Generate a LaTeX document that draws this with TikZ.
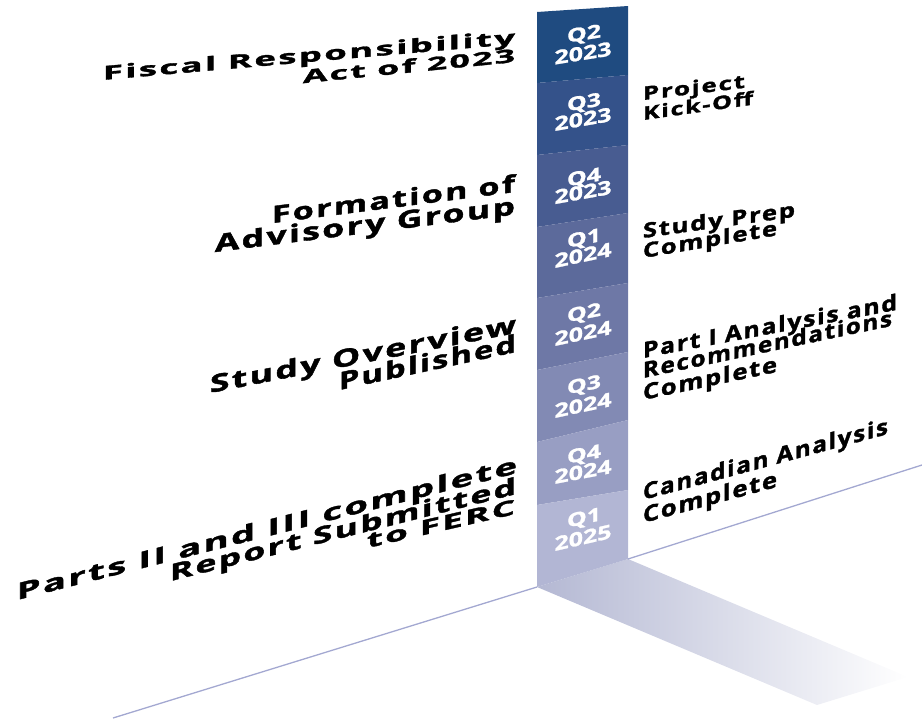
\documentclass[tikz,border=0pt]{standalone}
\usepackage{fontspec}
\usepackage{graphicx}
\newfontfamily\lblfont{Open Sans}[LetterSpace=7, BoldFeatures={FakeBold=1.6}]
\newfontfamily\qfont{Open Sans}[BoldFeatures={FakeBold=1.2}]
\newcommand{\fit}[3]{\resizebox{#1pt}{#2pt}{\lblfont\bfseries #3}}
\newcommand{\qfit}[3]{\resizebox{#1pt}{#2pt}{\qfont\bfseries #3}}
\definecolor{cA}{HTML}{1F4B80}
\definecolor{cB}{HTML}{34528A}
\definecolor{cC}{HTML}{485C91}
\definecolor{cD}{HTML}{5C6A9B}
\definecolor{cE}{HTML}{6E78A6}
\definecolor{cF}{HTML}{828AB4}
\definecolor{cG}{HTML}{989EC3}
\definecolor{cH}{HTML}{B2B6D4}
\definecolor{floorc}{HTML}{A3A8D1}
\definecolor{shadowc}{HTML}{B4B8D3}
\tikzset{
  lt/.style={inner sep=0pt, outer sep=0pt, text=black},
  ql/.style={inner sep=0pt, outer sep=0pt, text=white, anchor=base},
  leftlbl/.style={lt, anchor=base east},
  rightlbl/.style={lt, anchor=base west},
  floorline/.style={draw=floorc, line width=1.3pt}
}
\begin{document}
\begin{tikzpicture}[x=1pt,y=-1pt]
\useasboundingbox (0,0) rectangle (922,721);
% shadow on the floor
\shade[left color=shadowc, right color=white] (537,587) -- (628,559) -- (908,677) -- (817,705) -- cycle;
% floor lines
\coordinate (fl) at (113,718);
\coordinate (cbl) at (537,587);
\coordinate (cbr) at (628,559);
\coordinate (fr) at (922,465);
\draw[floorline] (fl) -- (cbl);
\draw[floorline] (cbr) -- (fr);
% column segments
\fill[cA] (537,12) -- (628,6) -- (628,75) -- (537,83) -- cycle;
\fill[cB] (537,83) -- (628,75) -- (628,145) -- (537,155) -- cycle;
\fill[cC] (537,155) -- (628,145) -- (628,213) -- (537,227) -- cycle;
\fill[cD] (537,227) -- (628,213) -- (628,283) -- (537,298) -- cycle;
\fill[cE] (537,298) -- (628,283) -- (628,352) -- (537,370) -- cycle;
\fill[cF] (537,370) -- (628,352) -- (628,420) -- (537,442) -- cycle;
\fill[cG] (537,442) -- (628,420) -- (628,490) -- (537,505) -- cycle;
\fill[cH] (537,505) -- (628,490) -- (628,559) -- (537,587) -- cycle;
% column labels
\node[ql, yslant=0.16] (q1) at (584,40) {\qfit{34}{13.5}{Q2}};
\node[ql, yslant=0.16] (y1) at (583,60) {\qfit{57}{14}{2023}};
\node[ql, yslant=0.17] (q2) at (584,108.5) {\qfit{34}{13.5}{Q3}};
\node[ql, yslant=0.175] (y2) at (583,126) {\qfit{57}{14}{2023}};
\node[ql, yslant=0.18] (q3) at (584,183.5) {\qfit{34}{13.5}{Q4}};
\node[ql, yslant=0.18] (y3) at (583,199) {\qfit{57}{14}{2023}};
\node[ql, yslant=0.2] (q4) at (584,244.5) {\qfit{34}{13.5}{Q1}};
\node[ql, yslant=0.21] (y4) at (583,262) {\qfit{57}{14}{2024}};
\node[ql, yslant=0.2] (q5) at (584,319) {\qfit{34}{13.5}{Q2}};
\node[ql, yslant=0.21] (y5) at (583,340) {\qfit{57}{14}{2024}};
\node[ql, yslant=0.2] (q6) at (584,391) {\qfit{34}{13.5}{Q3}};
\node[ql, yslant=0.21] (y6) at (583,412) {\qfit{57}{14}{2024}};
\node[ql, yslant=0.19] (q7) at (584,460.5) {\qfit{34}{13.5}{Q4}};
\node[ql, yslant=0.19] (y7) at (583,478.5) {\qfit{57}{14}{2024}};
\node[ql, yslant=0.22] (q8) at (584,524) {\qfit{34}{13.5}{Q1}};
\node[ql, yslant=0.23] (y8) at (583,544.5) {\qfit{57}{14}{2025}};
% left milestones
\node[leftlbl, yslant=0.087] (t1) at (515,44) {\fit{412}{14.5}{Fiscal Responsibility}};
\node[leftlbl, yslant=0.1] (t2) at (515,62) {\fit{212}{14}{Act of 2023}};
\node[leftlbl, yslant=0.128] (t3) at (515,192) {\fit{243}{18}{Formation of}};
\node[leftlbl, yslant=0.125] (t4) at (515,214.5) {\fit{300}{18.5}{Advisory Group}};
\node[leftlbl, yslant=0.196] (t5) at (516,333) {\fit{306}{18.5}{Study Overview}};
\node[leftlbl, yslant=0.215] (t6) at (516,352) {\fit{177}{18.5}{Published}};
\node[leftlbl, yslant=0.254] (t7) at (517,473) {\fit{500}{17.5}{Parts II and III complete}};
\node[leftlbl, yslant=0.252] (t8) at (516,494) {\fit{346}{17.5}{Report Submitted}};
\node[leftlbl, yslant=0.23] (t9) at (515,514) {\fit{148}{15}{to FERC}};
% right milestones
\node[rightlbl, yslant=0.12] (r1) at (643,100) {\fit{102}{14}{Project}};
\node[rightlbl, yslant=0.14] (r2) at (643,120) {\fit{110}{14}{Kick-Off}};
\node[rightlbl, yslant=0.14] (r3) at (643,238) {\fit{152}{15.5}{Study Prep}};
\node[rightlbl, yslant=0.17] (r4) at (643,258) {\fit{134}{15.5}{Complete}};
\node[rightlbl, yslant=0.19] (r5) at (643,358) {\fit{254}{16.5}{Part I Analysis and}};
\node[rightlbl, yslant=0.21] (r6) at (643,378) {\fit{249}{16.5}{Recommendations}};
\node[rightlbl, yslant=0.21] (r7) at (643,400) {\fit{134}{16.5}{Complete}};
\node[rightlbl, yslant=0.27] (r8) at (643,500) {\fit{245}{17}{Canadian Analysis}};
\node[rightlbl, yslant=0.27] (r9) at (643,523) {\fit{134}{17}{Complete}};
\end{tikzpicture}
\end{document}
